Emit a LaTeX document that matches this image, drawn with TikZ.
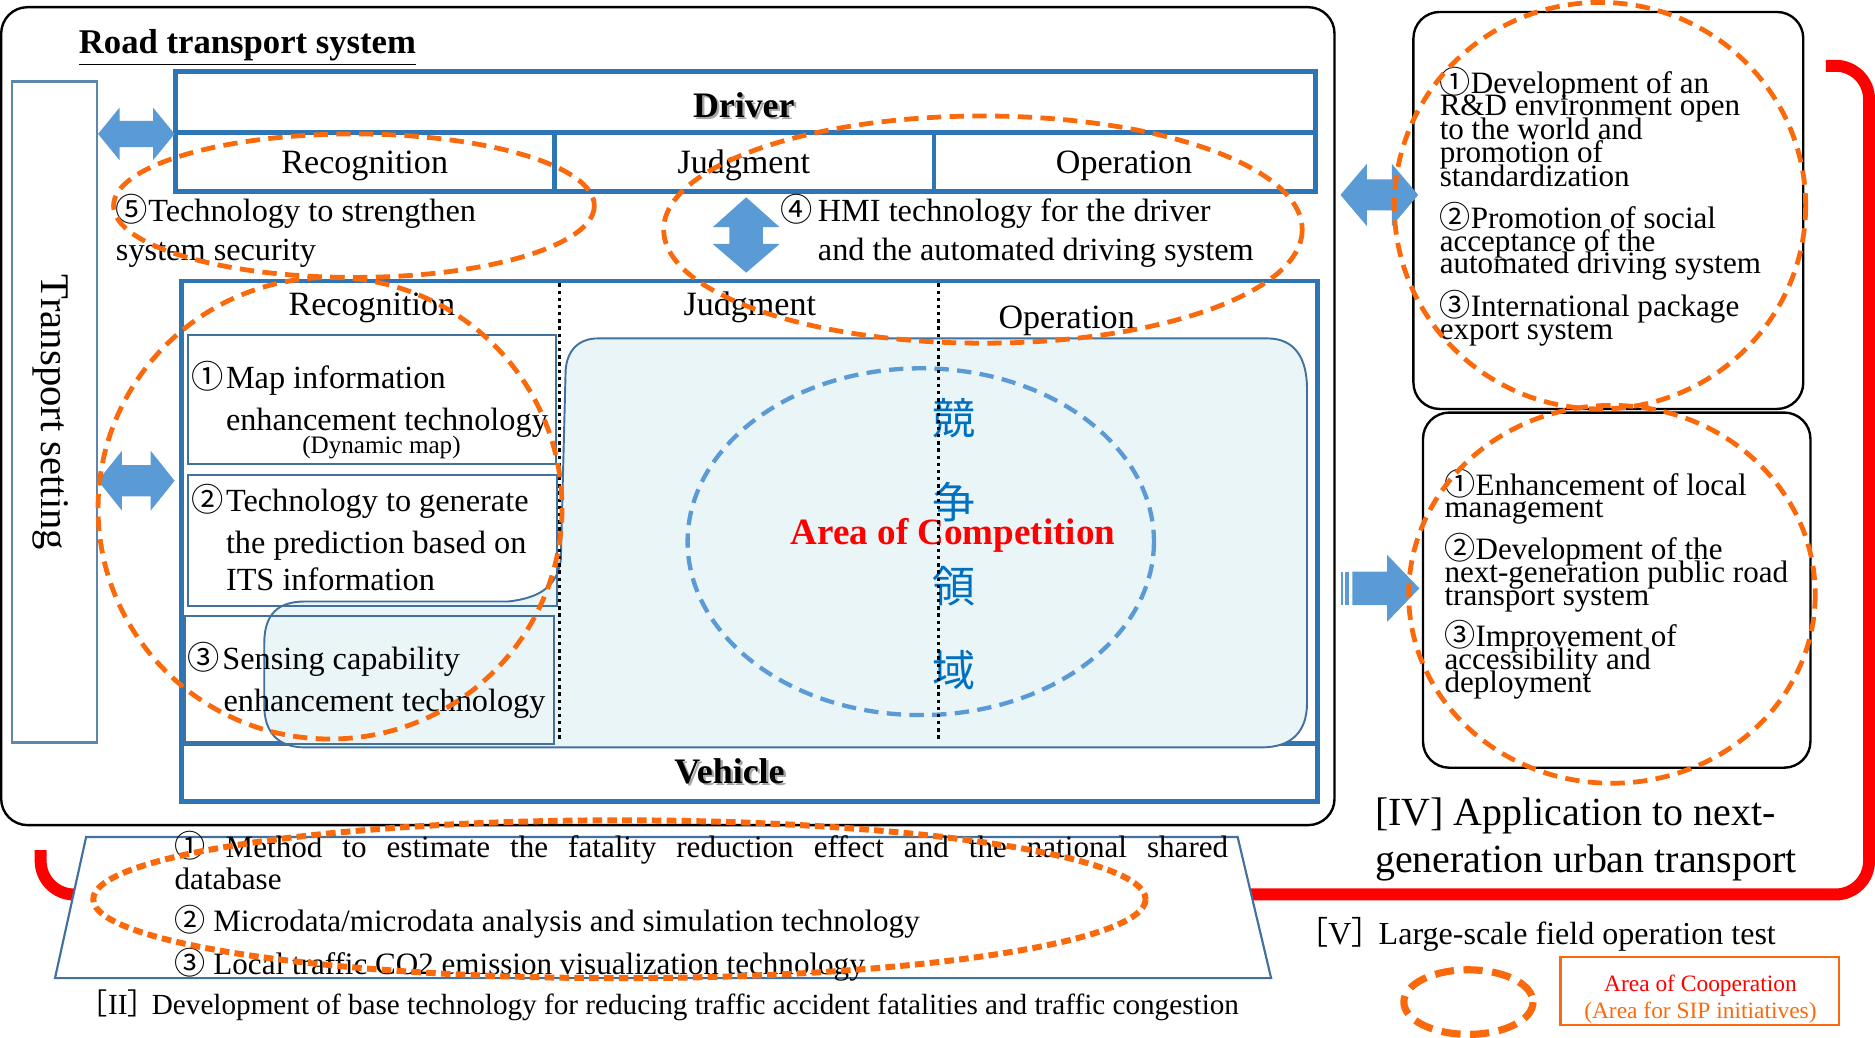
\documentclass[tikz,border=0pt]{standalone}
\usepackage{fontspec}
\setmainfont{Liberation Serif}
\newfontfamily\cjk{Noto Sans CJK JP}
\usetikzlibrary{shapes.geometric}
\definecolor{dblue}{HTML}{2E75B6}
\definecolor{mblue}{HTML}{41719C}
\definecolor{lblue}{HTML}{5B9BD5}
\definecolor{afill}{HTML}{EAF5F8}
\definecolor{orng}{HTML}{FA6A0C}
\definecolor{jblue}{HTML}{0070C0}
\newcommand\fs[2]{\fontsize{#1}{#2}\selectfont}
\begin{document}
\begin{tikzpicture}[x=0.5pt,y=-0.5pt,
  lbl/.style={inner sep=0pt, outer sep=0pt, anchor=base west},
  clbl/.style={inner sep=0pt, outer sep=0pt, anchor=base},
  body/.style={font=\fs{13.5pt}{16pt}},
  head/.style={font=\fs{14.25pt}{17pt}},
  rbox/.style={font=\fs{13pt}{15pt}},
  trap/.style={font=\fs{13pt}{15pt}},
  thickblue/.style={draw=dblue, line width=2pt},
  thinblue/.style={draw=mblue, line width=0.9pt},
  blackbox/.style={draw=black, line width=1pt, rounded corners=11pt},
  arrowfill/.style={fill=lblue},
  coop/.style={draw=orng, line width=2pt, dash pattern=on 6pt off 3.5pt},
  coopdense/.style={draw=orng, line width=2.5pt, dash pattern=on 4pt off 2.2pt},
  compete/.style={draw=lblue, line width=1.8pt, dash pattern=on 6pt off 3.5pt},
  divider/.style={draw=black, line width=1.2pt, dash pattern=on 1.4pt off 1.6pt},
  shadowtxt/.style={text=black!35, inner sep=0pt, outer sep=0pt, anchor=base}
]
\useasboundingbox (0,0) rectangle (1568,868);

% red loop of the field operation test
\draw[red, line width=5pt, rounded corners=14pt]
  (1527,55) -- (1563,55) -- (1563,748) -- (34,748) -- (34,711);

% base technology trapezoid
\filldraw[fill=white, thinblue] (72,700) -- (1035,700) -- (1063,818) -- (46,818) -- cycle;

% road transport system frame
\draw[blackbox, fill=white] (1,6) rectangle (1116,690);

% right hand boxes
\draw[blackbox] (1182,10) rectangle (1508,342);
\draw[blackbox] (1190,345) rectangle (1514,642);

% transport setting column
\draw[draw=mblue!85!white, line width=1pt] (10,68) rectangle (81,621);
\node[inner sep=0pt, rotate=-90, font=\fs{17pt}{20pt}] (ts) at (42,345) {Transport setting};

% driver block
\draw[thickblue] (147,60) rectangle (1100,160);
\draw[thickblue] (147,111) -- (1100,111);
\draw[thickblue] (464,111) -- (464,160);
\draw[thickblue] (781,111) -- (781,160);

% vehicle block
\draw[thickblue] (152,235) rectangle (1102,670);
\draw[thickblue] (152,622) -- (1102,622);

% competition area
\path[fill=afill, draw=mblue, line width=0.8pt]
  (500,283) -- (1060,283)
  .. controls (1083,283) and (1093,300) .. (1093,325)
  -- (1093,588)
  .. controls (1093,612) and (1080,625) .. (1055,625)
  -- (255,625)
  .. controls (232,625) and (221,612) .. (221,590)
  -- (221,538)
  .. controls (221,514) and (232,503) .. (255,503)
  -- (425,503)
  .. controls (452,500) and (466,490) .. (469,468)
  -- (473,310)
  .. controls (474,293) and (484,283) .. (500,283) -- cycle;
\draw[compete] (770,453) ellipse [x radius=195, y radius=145];

% recognition technology boxes
\draw[thinblue] (157,280) rectangle (465,388);
\draw[thinblue] (157,397) rectangle (466,507);
\draw[thinblue] (155,515) rectangle (463,622);

% title
\node[lbl, font=\bfseries\fs{14.5pt}{17pt}] (title) at (66,45) {\underline{Road transport system}};

% driver headings
\node[shadowtxt, font=\bfseries\fs{15pt}{18pt}] (drvs) at (624,100) {Driver};
\node[clbl, font=\bfseries\fs{15pt}{18pt}] (drv) at (622,98) {Driver};
\node[clbl, head] (h1) at (305,145) {Recognition};
\node[clbl, head] (h2) at (622,145) {Judgment};
\node[clbl, head] (h3) at (940,145) {Operation};

% security and HMI items
\node[lbl, body] (s1) at (97,185) {{\cjk⑤}Technology to strengthen};
\node[lbl, body] (s2) at (97,218) {system security};
\node[lbl, body] (hm1) at (653,185) {{\cjk④}\hspace{2pt}HMI technology for the driver};
\node[lbl, body] (hm2) at (684,218) {and the automated driving system};

% vehicle headings
\node[clbl, head] (v1) at (311,264) {Recognition};
\node[clbl, head] (v2) at (627,264) {Judgment};
\node[clbl, head] (v3) at (892,275) {Operation};
\node[shadowtxt, font=\bfseries\fs{15pt}{18pt}] (vehs) at (612,657) {Vehicle};
\node[clbl, font=\bfseries\fs{15pt}{18pt}] (veh) at (610,655) {Vehicle};

% recognition items
\node[lbl, body] (r1a) at (160,325) {{\cjk①}\hspace{1pt}Map information};
\node[lbl, body] (r1b) at (189,360) {enhancement technology};
\node[clbl, font=\fs{10.5pt}{12pt}] (r1c) at (319,379) {(Dynamic map)};
\node[lbl, body] (r2a) at (160,428) {{\cjk②}\hspace{1pt}Technology to generate};
\node[lbl, body] (r2b) at (189,463) {the prediction based on};
\node[lbl, body] (r2c) at (189,494) {ITS information};
\node[lbl, body] (r3a) at (157,560) {{\cjk③}\hspace{1pt}Sensing capability};
\node[lbl, body] (r3b) at (187,595) {enhancement technology};

% competition labels
\node[inner sep=0pt, text=jblue, font=\cjk\fs{18pt}{20pt}] (k1) at (798,350) {競};
\node[inner sep=0pt, text=jblue, font=\cjk\fs{18pt}{20pt}] (k2) at (798,420) {争};
\node[inner sep=0pt, text=jblue, font=\cjk\fs{18pt}{20pt}] (k3) at (798,490) {領};
\node[inner sep=0pt, text=jblue, font=\cjk\fs{18pt}{20pt}] (k4) at (798,560) {域};
\node[clbl, text=red, font=\bfseries\fs{15.5pt}{18pt}] (aoc) at (797,455) {Area of Competition};

% column dividers
\draw[divider] (468,237) -- (468,620);
\draw[divider] (785,237) -- (785,620);

% right hand items
\node[lbl, rbox] (a1) at (1204,78) {{\cjk①}Development of an};
\node[lbl, rbox] (a2) at (1204,97) {R\&D environment open};
\node[lbl, rbox] (a3) at (1204,117) {to the world and};
\node[lbl, rbox] (a4) at (1204,136) {promotion of};
\node[lbl, rbox] (a5) at (1204,156) {standardization};
\node[lbl, rbox] (a6) at (1204,191) {{\cjk②}Promotion of social};
\node[lbl, rbox] (a7) at (1204,210) {acceptance of the};
\node[lbl, rbox] (a8) at (1204,229) {automated driving system};
\node[lbl, rbox] (a9) at (1204,265) {{\cjk③}International package};
\node[lbl, rbox] (a10) at (1204,284) {export system};

\node[lbl, rbox] (b1) at (1208,414) {{\cjk①}Enhancement of local};
\node[lbl, rbox] (b2) at (1208,433) {management};
\node[lbl, rbox] (b3) at (1208,468) {{\cjk②}Development of the};
\node[lbl, rbox] (b4) at (1208,487) {next-generation public road};
\node[lbl, rbox] (b5) at (1208,506) {transport system};
\node[lbl, rbox] (b6) at (1208,541) {{\cjk③}Improvement of};
\node[lbl, rbox] (b7) at (1208,560) {accessibility and};
\node[lbl, rbox] (b8) at (1208,579) {deployment};

\node[lbl, font=\fs{16.7pt}{19pt}] (iv1) at (1150,690) {[IV] Application to next-};
\node[lbl, font=\fs{16.7pt}{19pt}] (iv2) at (1150,730) {generation urban transport};

% base technology items
\node[lbl, trap] (m1) at (146,717) {\hbox to 440.5pt{{\cjk①} Method to estimate the fatality reduction effect and the national shared}};
\node[lbl, trap] (m2) at (146,744) {database};
\node[lbl, trap] (m3) at (146,779) {{\cjk②} Microdata/microdata analysis and simulation technology};
\node[lbl, trap] (m4) at (146,815) {{\cjk③} Local traffic CO2 emission visualization technology};
\node[lbl, font=\fs{12.2pt}{14pt}] (ii) at (66,848) {{\cjk［}II{\cjk］}\hspace{-2pt}Development of base technology for reducing traffic accident fatalities and traffic congestion};
\node[lbl, font=\fs{13.4pt}{15pt}] (v5) at (1084,790) {{\cjk［}V{\cjk］}\hspace{-2pt}Large-scale field operation test};

% legend
\draw[draw=orng, line width=0.9pt] (1305,800) rectangle (1538,857);
\node[clbl, text=red, font=\fs{9.8pt}{11pt}] (lg1) at (1422,829) {Area of Cooperation};
\node[clbl, text=orng, font=\fs{9.8pt}{11pt}] (lg2) at (1422,852) {(Area for SIP initiatives)};
\draw[draw=orng, line width=3pt, dash pattern=on 8pt off 4pt] (1228,838) ellipse [x radius=54, y radius=27];

% block arrows
\fill[arrowfill] (82,112) -- (100,90) -- (100,101) -- (128,101) -- (128,90) -- (146,112)
  -- (128,134) -- (128,123) -- (100,123) -- (100,134) -- cycle;
\fill[arrowfill] (82,402) -- (102,377) -- (102,389) -- (126,389) -- (126,377) -- (146,402)
  -- (126,427) -- (126,415) -- (102,415) -- (102,427) -- cycle;
\fill[arrowfill] (624,165) -- (652,190) -- (638,190) -- (638,204) -- (652,204) -- (624,228)
  -- (596,204) -- (610,204) -- (610,190) -- (596,190) -- cycle;
\fill[arrowfill] (1121,163) -- (1143,137) -- (1143,150) -- (1164,150) -- (1164,137) -- (1186,163)
  -- (1164,189) -- (1164,176) -- (1143,176) -- (1143,189) -- cycle;
\fill[arrowfill] (1121,478) rectangle (1123,506);
\fill[arrowfill] (1125,478) rectangle (1128,506);
\fill[arrowfill] (1131,478) -- (1160,478) -- (1160,464) -- (1187,492) -- (1160,520)
  -- (1160,506) -- (1131,506) -- cycle;

% areas of cooperation
\draw[coop] (296,172) ellipse [x radius=201, y radius=60];
\draw[coop] (822,192) ellipse [x radius=267, y radius=95];
\draw[coop] (276,425) ellipse [x radius=194, y radius=193];
\draw[coop] (1338,172) ellipse [x radius=172, y radius=170];
\draw[coop] (1348,497) ellipse [x radius=170, y radius=158];
\draw[coopdense] (518,752) ellipse [x radius=440, y radius=66];
\end{tikzpicture}
\end{document}
